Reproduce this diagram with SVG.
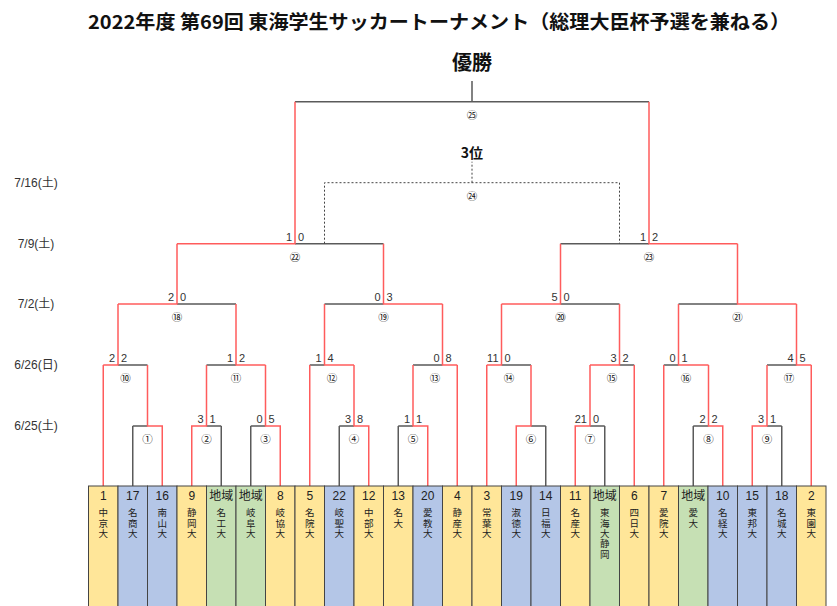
<svg xmlns="http://www.w3.org/2000/svg" width="837" height="606" viewBox="0 0 837 606">
<style>
text{font-family:"Liberation Sans","Noto Sans CJK JP",sans-serif;fill:#222}
.ttl{font-family:"Noto Sans CJK JP",sans-serif;font-weight:bold;font-size:19px;fill:#111}
.big{font-family:"Noto Sans CJK JP",sans-serif;font-weight:bold;fill:#111}
.dt{font-size:12px;text-anchor:middle;fill:#333}
.sc{font-size:11px;fill:#333}
.sl{text-anchor:end}
.lb{font-family:"Noto Sans CJK JP",sans-serif;font-size:10.5px;text-anchor:middle;fill:#111}
.no{font-size:12px;text-anchor:middle}
.nm{font-family:"Noto Sans CJK JP",sans-serif;font-size:9.5px;writing-mode:vertical-rl;letter-spacing:0.8px}
.y{fill:#FFE699}.b{fill:#B4C6E7}.g{fill:#C6E0B4}
.bx{stroke:#444;stroke-width:1}
.k{fill:none;stroke:#5a5a5a;stroke-width:1.5}
.r{fill:none;stroke:#ff5c5c;stroke-width:1.5}
.d{fill:none;stroke:#444;stroke-width:1;stroke-dasharray:2 2}
</style>
<rect width="837" height="606" fill="#fff"/>
<text class="ttl" x="88" y="29" textLength="702" lengthAdjust="spacingAndGlyphs">2022年度 第69回 東海学生サッカートーナメント（総理大臣杯予選を兼ねる）</text>
<text class="big" x="472" y="70" font-size="20" text-anchor="middle">優勝</text>
<text class="big" x="472" y="158" font-size="14" text-anchor="middle">3位</text>
<g id="dates">
<text class="dt" x="36" y="187">7/16(土)</text>
<text class="dt" x="36" y="248">7/9(土)</text>
<text class="dt" x="36" y="308">7/2(土)</text>
<text class="dt" x="36" y="369">6/26(日)</text>
<text class="dt" x="36" y="430">6/25(土)</text>
</g>
<g id="connectors">
<path class="k" d="M132.75 486V426M221.25 486V426M250.75 486V426M339.25 486V426M398.25 486V426M545.75 486V426M604.75 486V426M693.25 486V426M781.75 486V426
M132.75 426H147.5M206.5 426H221.25M250.75 426H265.5M339.25 426H354M398.25 426H413M531 426H545.75M590 426H604.75M693.25 426H708.5M767 426H781.75
M118 365H147.5M206.5 365H236M309.75 365H324.5M413 365H442.5M501.5 365H531M619.5 365H634.25M663.75 365H678.5M767 365H796.5
M177 304H236M324.5 304H383.5M560.5 304H619.5M678.5 304H737.5
M295 243.7H383.5M560.5 243.7H649
M295 101.7H649M472 101.7V81"/>
<path class="r" d="M162.25 486V426H147.5V365M191.75 486V426H206.5V365M280.25 486V426H265.5V365M368.75 486V426H354V365M427.75 486V426H413V365M516.25 486V426H531V365M575.25 486V426H590V365M722.75 486V426H708.5V365M752.25 486V426H767V365
M103.25 486V365M309.75 486V365M457.25 486V365M486.75 486V365M634.25 486V365M663.75 486V365M811.25 486V365
M103.25 365H118V304M265.5 365H236V304M354 365H324.5V304M457.25 365H442.5V304M486.75 365H501.5V304M590 365H619.5V304M708.5 365H678.5V304M811.25 365H796.5V304
M118 304H177V243.7M442.5 304H383.5V243.7M501.5 304H560.5V243.7M796.5 304H737.5V243.7
M177 243.7H295V101.7M737.5 243.7H649V101.7"/>
<path class="d" d="M324.5 243.7V182.7H619.5V243.7M472 182.7V161.7"/>
</g>
<g id="matches">
<g id="m1"><text class="lb" x="147.5" y="443">①</text></g>
<g id="m2"><text class="sc sl" x="203.5" y="423">3</text><text class="sc" x="209.5" y="423">1</text><text class="lb" x="206.5" y="443">②</text></g>
<g id="m3"><text class="sc sl" x="262.5" y="423">0</text><text class="sc" x="268.5" y="423">5</text><text class="lb" x="265.5" y="443">③</text></g>
<g id="m4"><text class="sc sl" x="351" y="423">3</text><text class="sc" x="357" y="423">8</text><text class="lb" x="354" y="443">④</text></g>
<g id="m5"><text class="sc sl" x="410" y="423">1</text><text class="sc" x="416" y="423">1</text><text class="lb" x="413" y="443">⑤</text></g>
<g id="m6"><text class="lb" x="531" y="443">⑥</text></g>
<g id="m7"><text class="sc sl" x="587" y="423">21</text><text class="sc" x="593" y="423">0</text><text class="lb" x="590" y="443">⑦</text></g>
<g id="m8"><text class="sc sl" x="705.5" y="423">2</text><text class="sc" x="711.5" y="423">2</text><text class="lb" x="708.5" y="443">⑧</text></g>
<g id="m9"><text class="sc sl" x="764" y="423">3</text><text class="sc" x="770" y="423">1</text><text class="lb" x="767" y="443">⑨</text></g>
<g id="m10"><text class="sc sl" x="115" y="362">2</text><text class="sc" x="121" y="362">2</text><text class="lb" x="125.4" y="382">⑩</text></g>
<g id="m11"><text class="sc sl" x="233" y="362">1</text><text class="sc" x="239" y="362">2</text><text class="lb" x="236" y="382">⑪</text></g>
<g id="m12"><text class="sc sl" x="321.5" y="362">1</text><text class="sc" x="327.5" y="362">4</text><text class="lb" x="332" y="382">⑫</text></g>
<g id="m13"><text class="sc sl" x="439.5" y="362">0</text><text class="sc" x="445.5" y="362">8</text><text class="lb" x="435" y="382">⑬</text></g>
<g id="m14"><text class="sc sl" x="498.5" y="362">11</text><text class="sc" x="504.5" y="362">0</text><text class="lb" x="509" y="382">⑭</text></g>
<g id="m15"><text class="sc sl" x="616.5" y="362">3</text><text class="sc" x="622.5" y="362">2</text><text class="lb" x="612" y="382">⑮</text></g>
<g id="m16"><text class="sc sl" x="675.5" y="362">0</text><text class="sc" x="681.5" y="362">1</text><text class="lb" x="686" y="382">⑯</text></g>
<g id="m17"><text class="sc sl" x="793.5" y="362">4</text><text class="sc" x="799.5" y="362">5</text><text class="lb" x="789" y="382">⑰</text></g>
<g id="m18"><text class="sc sl" x="174" y="301">2</text><text class="sc" x="180" y="301">0</text><text class="lb" x="177" y="321">⑱</text></g>
<g id="m19"><text class="sc sl" x="380.5" y="301">0</text><text class="sc" x="386.5" y="301">3</text><text class="lb" x="383.5" y="321">⑲</text></g>
<g id="m20"><text class="sc sl" x="557.5" y="301">5</text><text class="sc" x="563.5" y="301">0</text><text class="lb" x="560.5" y="321">⑳</text></g>
<g id="m21"><text class="lb" x="737.5" y="321">㉑</text></g>
<g id="m22"><text class="sc sl" x="292" y="240.5">1</text><text class="sc" x="298" y="240.5">0</text><text class="lb" x="295" y="260.5">㉒</text></g>
<g id="m23"><text class="sc sl" x="646" y="240.5">1</text><text class="sc" x="652" y="240.5">2</text><text class="lb" x="649" y="260.5">㉓</text></g>
<g id="m24"><text class="lb" x="472" y="200">㉔</text></g>
<g id="m25"><text class="lb" x="472" y="119">㉕</text></g>
</g>
<g id="teams">
<g id="t0"><rect class="bx y" x="88.5" y="486" width="29.5" height="122"/><text class="no" x="103.25" y="500">1</text><text class="nm" x="103.25" y="508">中京大</text></g>
<g id="t1"><rect class="bx b" x="118" y="486" width="29.5" height="122"/><text class="no" x="132.75" y="500">17</text><text class="nm" x="132.75" y="508">名商大</text></g>
<g id="t2"><rect class="bx b" x="147.5" y="486" width="29.5" height="122"/><text class="no" x="162.25" y="500">16</text><text class="nm" x="162.25" y="508">南山大</text></g>
<g id="t3"><rect class="bx y" x="177" y="486" width="29.5" height="122"/><text class="no" x="191.75" y="500">9</text><text class="nm" x="191.75" y="508">静岡大</text></g>
<g id="t4"><rect class="bx g" x="206.5" y="486" width="29.5" height="122"/><text class="no" x="221.25" y="500">地域</text><text class="nm" x="221.25" y="508">名工大</text></g>
<g id="t5"><rect class="bx g" x="236" y="486" width="29.5" height="122"/><text class="no" x="250.75" y="500">地域</text><text class="nm" x="250.75" y="508">岐阜大</text></g>
<g id="t6"><rect class="bx y" x="265.5" y="486" width="29.5" height="122"/><text class="no" x="280.25" y="500">8</text><text class="nm" x="280.25" y="508">岐協大</text></g>
<g id="t7"><rect class="bx y" x="295" y="486" width="29.5" height="122"/><text class="no" x="309.75" y="500">5</text><text class="nm" x="309.75" y="508">名院大</text></g>
<g id="t8"><rect class="bx b" x="324.5" y="486" width="29.5" height="122"/><text class="no" x="339.25" y="500">22</text><text class="nm" x="339.25" y="508">岐聖大</text></g>
<g id="t9"><rect class="bx y" x="354" y="486" width="29.5" height="122"/><text class="no" x="368.75" y="500">12</text><text class="nm" x="368.75" y="508">中部大</text></g>
<g id="t10"><rect class="bx y" x="383.5" y="486" width="29.5" height="122"/><text class="no" x="398.25" y="500">13</text><text class="nm" x="398.25" y="508">名大</text></g>
<g id="t11"><rect class="bx b" x="413" y="486" width="29.5" height="122"/><text class="no" x="427.75" y="500">20</text><text class="nm" x="427.75" y="508">愛教大</text></g>
<g id="t12"><rect class="bx y" x="442.5" y="486" width="29.5" height="122"/><text class="no" x="457.25" y="500">4</text><text class="nm" x="457.25" y="508">静産大</text></g>
<g id="t13"><rect class="bx y" x="472" y="486" width="29.5" height="122"/><text class="no" x="486.75" y="500">3</text><text class="nm" x="486.75" y="508">常葉大</text></g>
<g id="t14"><rect class="bx b" x="501.5" y="486" width="29.5" height="122"/><text class="no" x="516.25" y="500">19</text><text class="nm" x="516.25" y="508">淑徳大</text></g>
<g id="t15"><rect class="bx b" x="531" y="486" width="29.5" height="122"/><text class="no" x="545.75" y="500">14</text><text class="nm" x="545.75" y="508">日福大</text></g>
<g id="t16"><rect class="bx y" x="560.5" y="486" width="29.5" height="122"/><text class="no" x="575.25" y="500">11</text><text class="nm" x="575.25" y="508">名産大</text></g>
<g id="t17"><rect class="bx g" x="590" y="486" width="29.5" height="122"/><text class="no" x="604.75" y="500">地域</text><text class="nm" x="604.75" y="508">東海大静岡</text></g>
<g id="t18"><rect class="bx y" x="619.5" y="486" width="29.5" height="122"/><text class="no" x="634.25" y="500">6</text><text class="nm" x="634.25" y="508">四日大</text></g>
<g id="t19"><rect class="bx y" x="649" y="486" width="29.5" height="122"/><text class="no" x="663.75" y="500">7</text><text class="nm" x="663.75" y="508">愛院大</text></g>
<g id="t20"><rect class="bx g" x="678.5" y="486" width="29.5" height="122"/><text class="no" x="693.25" y="500">地域</text><text class="nm" x="693.25" y="508">愛大</text></g>
<g id="t21"><rect class="bx b" x="708" y="486" width="29.5" height="122"/><text class="no" x="722.75" y="500">10</text><text class="nm" x="722.75" y="508">名経大</text></g>
<g id="t22"><rect class="bx b" x="737.5" y="486" width="29.5" height="122"/><text class="no" x="752.25" y="500">15</text><text class="nm" x="752.25" y="508">東邦大</text></g>
<g id="t23"><rect class="bx b" x="767" y="486" width="29.5" height="122"/><text class="no" x="781.75" y="500">18</text><text class="nm" x="781.75" y="508">名城大</text></g>
<g id="t24"><rect class="bx y" x="796.5" y="486" width="29.5" height="122"/><text class="no" x="811.25" y="500">2</text><text class="nm" x="811.25" y="508">東園大</text></g>
</g>
</svg>
